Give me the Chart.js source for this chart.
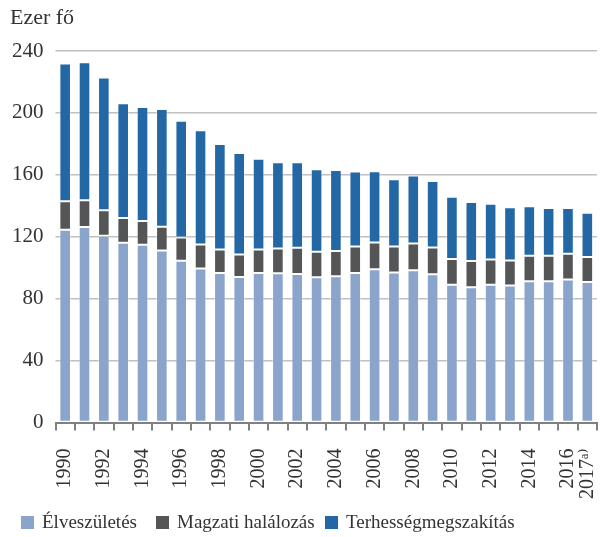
<!DOCTYPE html>
<html>
    <head>
        <meta charset="utf-8">
        <title>Terhességek kimenetele</title>
        <script src="https://cdn.jsdelivr.net/npm/chart.js@4.4.0/dist/chart.umd.min.js"></script>
        <style>
            body { margin: 0; background: #fff; }
            #wrap { position: relative; width: 600px; height: 537px; }
            #unit {
                position: absolute; left: 10px; top: 4px;
                font-family: 'Liberation Serif', 'DejaVu Serif', serif;
                font-size: 22px; color: #333;
            }
            #legend {
                position: absolute; left: 21px; top: 511px;
                display: flex; align-items: center;
                font-family: 'Liberation Serif', 'DejaVu Serif', serif;
                font-size: 19px; color: #333;
            }
            #legend .item { display: flex; align-items: center; }
            #legend .box { width: 13px; height: 13px; margin-right: 8px; }
        </style>
    </head>
    <body>
        <div id="wrap">
            <canvas id="chart" width="600" height="537"></canvas>
            <div id="unit">Ezer fő</div>
            <div id="legend"></div>
        </div>
        <script>
// years on the x axis
const years = ['1990','1991','1992','1993','1994','1995','1996','1997','1998','1999',
               '2000','2001','2002','2003','2004','2005','2006','2007','2008','2009',
               '2010','2011','2012','2013','2014','2015','2016','2017'];

// thousand persons
const elveszuletes = [124.6,126.3,120.7,116.1,114.8,111.2,104.5,99.5,96.7,94.1,
                      96.7,96.5,96.0,93.9,94.5,96.7,99.0,96.9,98.4,95.8,
                      89.1,87.4,89.1,88.5,91.3,91.3,92.4,90.8];
const magzatiHalalozas = [18.4,17.3,16.4,16.0,15.4,15.3,15.1,15.6,15.1,14.5,
                          15.1,16.0,17.0,16.4,16.4,17.1,17.4,16.9,17.3,17.3,
                          16.6,17.0,16.2,16.2,16.4,16.4,16.6,16.2];
const terhessegmegszakitas = [89.0,89.1,85.8,74.2,73.7,76.1,75.4,73.7,68.1,65.5,
                              58.6,55.7,55.2,53.4,52.2,48.4,46.0,43.4,43.9,43.0,
                              40.1,38.1,36.1,34.4,32.0,30.9,29.6,28.6];

const yTicks = [0, 40, 80, 120, 160, 200, 240];

const serif = "'Liberation Serif', 'DejaVu Serif', serif";

function ds(label, data, color) {
    return {
        label: label,
        data: data,
        backgroundColor: color,
        borderColor: 'rgba(255,255,255,0.35)',
        borderWidth: 1,
        borderSkipped: false,
        barPercentage: 0.6,
        categoryPercentage: 1
    };
}

const ctx = document.getElementById('chart').getContext('2d');
const chart = new Chart(ctx, {
    type: 'bar',
    data: {
        labels: years,
        datasets: [
            ds('Élveszületés', elveszuletes, '#8AA4CB'),
            ds('Magzati halálozás', magzatiHalalozas, '#545557'),
            ds('Terhességmegszakítás', terhessegmegszakitas, '#2368A4')
        ]
    },
    options: {
        responsive: false,
        animation: false,
        layout: { padding: { left: 0, right: 3, top: 51, bottom: 20 } },
        plugins: {
            title: { display: false },
            legend: { display: false },
            tooltip: { enabled: false }
        },
        scales: {
            x: {
                stacked: true,
                // the rotated last label needs no extra room on the right
                afterFit: function (scale) { scale.paddingRight = 0; },
                border: { color: '#808080', width: 2 },
                grid: {
                    drawOnChartArea: false,
                    color: '#808080',
                    lineWidth: 2,
                    tickLength: 8
                },
                ticks: {
                    autoSkip: false,
                    minRotation: 90,
                    maxRotation: 90,
                    color: '#333',
                    font: { family: serif, size: 20 },
                    padding: 18,
                    callback: function (value, index) {
                        const y = years[index];
                        if (y === '2017') return '2017ᵃ⁾';
                        return (index % 2 === 0) ? y : '';
                    }
                }
            },
            y: {
                stacked: true,
                min: 0,
                max: 240,
                afterBuildTicks: function (axis) {
                    axis.ticks = yTicks.map(v => ({ value: v }));
                },
                border: { display: false },
                grid: { color: '#C0C0C0', lineWidth: 1.5, tickLength: 0 },
                ticks: {
                    color: '#333',
                    font: { family: serif, size: 21 },
                    padding: 12
                }
            }
        }
    }
});

// legend as html text, built from the datasets
const legendWidths = [135, 169, null];
const legendEl = document.getElementById('legend');
chart.data.datasets.forEach((d, i) => {
    const item = document.createElement('div');
    item.className = 'item';
    if (legendWidths[i]) item.style.width = legendWidths[i] + 'px';
    const box = document.createElement('span');
    box.className = 'box';
    box.style.background = d.backgroundColor;
    const txt = document.createElement('span');
    txt.textContent = d.label;
    item.appendChild(box);
    item.appendChild(txt);
    legendEl.appendChild(item);
});
        </script>
    </body>
</html>
